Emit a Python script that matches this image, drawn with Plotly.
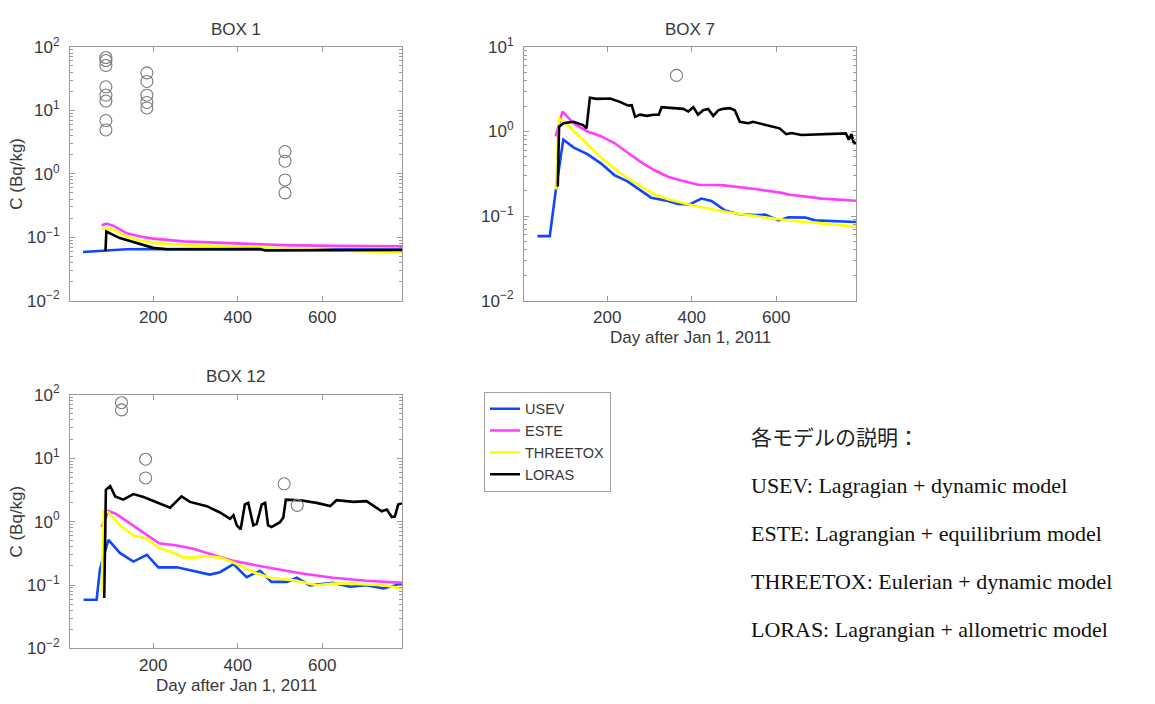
import plotly.graph_objects as go

# ---------------- DATA ----------------
# BOX 1
box1_usev_x = [34, 60, 90, 120, 137, 200, 300, 400, 500, 600, 700, 789]
box1_usev_y = [0.0586, 0.060, 0.062, 0.064, 0.0646, 0.065, 0.065, 0.065, 0.065, 0.065, 0.064, 0.064]
box1_este_x = [78, 90, 106, 137, 169, 200, 271, 390, 508, 626, 789]
box1_este_y = [0.155, 0.164, 0.151, 0.116, 0.103, 0.095, 0.086, 0.0805, 0.075, 0.073, 0.072]
box1_three_x = [78, 106, 137, 169, 200, 271, 390, 508, 626, 789]
box1_three_y = [0.138, 0.131, 0.103, 0.089, 0.0815, 0.075, 0.0718, 0.0667, 0.0625, 0.057]
box1_loras_x = [87, 89, 121, 169, 200, 232, 300, 400, 453, 465, 600, 789]
box1_loras_y = [0.060, 0.123, 0.097, 0.079, 0.068, 0.0646, 0.065, 0.065, 0.065, 0.062, 0.062, 0.063]
box1_obs_x = [88, 88, 88, 88, 88, 88, 88, 88, 185, 185, 185, 185, 185, 512, 512, 512, 512]
box1_obs_y = [68, 61, 51, 23.5, 17.4, 14, 6.9, 4.9, 39, 28.5, 17.3, 13.3, 10.9, 2.24, 1.58, 0.80, 0.50]

# BOX 7
box7_usev_x = [35, 64, 78, 96, 121, 153, 185, 217, 248, 280, 304, 344, 367, 395, 423, 447, 479, 510, 550, 574, 606, 629, 637, 669, 692, 730, 789]
box7_usev_y = [0.058, 0.058, 0.197, 0.80, 0.645, 0.54, 0.42, 0.305, 0.257, 0.197, 0.165, 0.151, 0.139, 0.137, 0.161, 0.151, 0.116, 0.106, 0.103, 0.104, 0.089, 0.097, 0.097, 0.096, 0.089, 0.088, 0.085]
box7_este_x = [78, 94, 121, 153, 185, 217, 248, 280, 312, 344, 375, 415, 471, 550, 614, 629, 709, 789]
box7_este_y = [0.877, 1.72, 1.24, 1.0, 0.88, 0.73, 0.565, 0.434, 0.348, 0.292, 0.263, 0.235, 0.232, 0.209, 0.188, 0.18, 0.161, 0.152]
box7_three_x = [78, 86, 98, 121, 153, 185, 217, 248, 280, 312, 344, 391, 439, 486, 550, 629, 709, 789]
box7_three_y = [0.206, 1.42, 1.3, 1.0, 0.70, 0.495, 0.364, 0.28, 0.225, 0.18, 0.158, 0.138, 0.123, 0.111, 0.10, 0.089, 0.082, 0.075]
box7_loras_x = [83, 86, 96, 120, 143, 151, 159, 175, 207, 230, 250, 258, 266, 278, 294, 310, 322, 329, 357, 380, 392, 404, 415, 427, 439, 451, 463, 474, 490, 502, 514, 534, 545, 577, 608, 624, 636, 660, 692, 740, 765, 772, 778, 783, 789]
box7_loras_y = [0.224, 1.14, 1.25, 1.30, 1.19, 1.09, 2.51, 2.43, 2.45, 2.24, 2.02, 2.05, 1.49, 1.58, 1.53, 1.58, 1.58, 1.94, 1.89, 1.85, 1.72, 1.94, 1.58, 1.78, 1.85, 1.53, 1.78, 1.85, 1.89, 1.78, 1.30, 1.25, 1.30, 1.19, 1.09, 0.93, 0.96, 0.91, 0.92, 0.95, 0.95, 0.80, 0.93, 0.75, 0.72]
box7_obs_x = [364]
box7_obs_y = [4.6]

# BOX 12
box12_usev_x = [35, 66, 74, 94, 121, 153, 185, 212, 256, 295, 334, 358, 390, 421, 453, 480, 516, 540, 571, 626, 666, 705, 745, 789]
box12_usev_y = [0.0586, 0.0586, 0.179, 0.513, 0.32, 0.234, 0.30, 0.19, 0.19, 0.168, 0.146, 0.159, 0.213, 0.133, 0.168, 0.112, 0.112, 0.130, 0.099, 0.108, 0.094, 0.099, 0.0885, 0.105]
box12_este_x = [78, 94, 113, 153, 185, 214, 256, 295, 341, 390, 437, 492, 548, 626, 705, 789]
box12_este_y = [0.82, 1.47, 1.31, 0.87, 0.61, 0.456, 0.42, 0.374, 0.30, 0.24, 0.208, 0.179, 0.153, 0.130, 0.117, 0.108]
box12_three_x = [78, 83, 94, 121, 153, 185, 212, 249, 273, 295, 327, 358, 390, 437, 476, 532, 587, 626, 666, 745, 789]
box12_three_y = [0.079, 1.47, 1.4, 0.87, 0.60, 0.543, 0.39, 0.32, 0.27, 0.27, 0.285, 0.27, 0.226, 0.159, 0.130, 0.119, 0.099, 0.105, 0.105, 0.099, 0.0885]
box12_loras_x = [84, 88, 98, 110, 129, 153, 177, 208, 240, 267, 287, 327, 358, 382, 390, 398, 407, 417, 425, 437, 445, 457, 465, 472, 480, 500, 508, 514, 548, 587, 619, 634, 674, 705, 729, 741, 753, 765, 772, 780, 789]
box12_loras_y = [0.0622, 3.16, 3.63, 2.49, 2.22, 2.71, 2.44, 2.04, 1.65, 2.49, 2.04, 1.75, 1.39, 1.10, 1.26, 0.87, 0.755, 1.86, 1.97, 0.87, 0.92, 1.86, 1.97, 0.87, 0.82, 0.977, 1.16, 2.22, 2.17, 1.97, 1.75, 2.17, 2.04, 2.10, 1.65, 1.45, 1.55, 1.18, 1.20, 1.85, 1.95]
box12_obs_x = [125, 125, 182, 182, 510, 541]
box12_obs_y = [74.6, 57.5, 9.6, 4.87, 3.94, 1.8]

model_names = ["USEV", "ESTE", "THREETOX", "LORAS"]
model_colors = ["#1046ff", "#ff3cff", "#ffff00", "#000000"]
x_tickvals = [200, 400, 600]
descr_title = "各モデルの説明："
descr_lines = [
    "USEV: Lagragian + dynamic model",
    "ESTE: Lagrangian + equilibrium model",
    "THREETOX: Eulerian + dynamic model",
    "LORAS: Lagrangian + allometric model",
]

# ---------------- FIGURE ----------------
W, H = 1155, 704
TXT = "#383838"
AXC = "#9a9a9a"
SANS = "Liberation Sans, Arial, sans-serif"

fig = go.Figure()

panels = [
    ("x", "y", [(box1_usev_x, box1_usev_y), (box1_este_x, box1_este_y), (box1_three_x, box1_three_y), (box1_loras_x, box1_loras_y)], (box1_obs_x, box1_obs_y), True),
    ("x2", "y2", [(box7_usev_x, box7_usev_y), (box7_este_x, box7_este_y), (box7_three_x, box7_three_y), (box7_loras_x, box7_loras_y)], (box7_obs_x, box7_obs_y), False),
    ("x3", "y3", [(box12_usev_x, box12_usev_y), (box12_este_x, box12_este_y), (box12_three_x, box12_three_y), (box12_loras_x, box12_loras_y)], (box12_obs_x, box12_obs_y), False),
]

for xa, ya, series, obs, show in panels:
    for (sx, sy), name, col in zip(series, model_names, model_colors):
        fig.add_trace(go.Scatter(x=sx, y=sy, mode="lines", name=name, legendgroup=name,
                                 showlegend=show, line=dict(color=col, width=2.6),
                                 xaxis=xa, yaxis=ya))
    fig.add_trace(go.Scatter(x=obs[0], y=obs[1], mode="markers", showlegend=False,
                             marker=dict(symbol="circle-open", size=12, color="#7a7a7a",
                                         line=dict(width=1.1, color="#7a7a7a")),
                             xaxis=xa, yaxis=ya))

def px_x(p):
    return p / W

def px_y(p):
    return 1 - p / H

def xaxis_cfg(l, r, anchor):
    return dict(domain=[px_x(l), px_x(r)], anchor=anchor, range=[3, 789],
                tickmode="array", tickvals=x_tickvals, ticks="inside", ticklen=5,
                tickcolor=AXC, showline=True, linecolor=AXC, linewidth=1, mirror="ticks",
                showgrid=False, zeroline=False,
                tickfont=dict(family=SANS, size=17, color=TXT), ticklabelstandoff=1)

def yaxis_cfg(t, b, anchor, lo, hi):
    vals = [10.0 ** e for e in range(lo, hi + 1)]
    texts = ["10<sup>%s</sup>" % (str(e) if e >= 0 else "\u2212" + str(-e)) for e in range(lo, hi + 1)]
    minor_vals = [m * 10.0 ** e for e in range(lo, hi) for m in range(2, 10)]
    return dict(domain=[px_y(b), px_y(t)], anchor=anchor, type="log", range=[lo, hi],
                tickmode="array", tickvals=vals, ticktext=texts, ticks="inside", ticklen=5,
                tickcolor=AXC, showline=True, linecolor=AXC, linewidth=1, mirror="ticks",
                showgrid=False, zeroline=False,
                minor=dict(tickmode="array", tickvals=minor_vals, ticks="inside", ticklen=3,
                           tickcolor=AXC, showgrid=False),
                tickfont=dict(family=SANS, size=17, color=TXT), ticklabelstandoff=6)

fig.update_layout(
    width=W, height=H, autosize=False,
    margin=dict(l=0, r=0, t=0, b=0),
    paper_bgcolor="white", plot_bgcolor="white",
    xaxis=xaxis_cfg(70, 402, "y"), yaxis=yaxis_cfg(36, 298, "x", -2, 2),
    xaxis2=xaxis_cfg(524, 856, "y2"), yaxis2=yaxis_cfg(36, 298, "x2", -2, 1),
    xaxis3=xaxis_cfg(70, 402, "y3"), yaxis3=yaxis_cfg(395, 657, "x3", -2, 2),
    legend=dict(x=px_x(484), y=px_y(392), xanchor="left", yanchor="top",
                bgcolor="white", bordercolor="#a0a0a0", borderwidth=1,
                font=dict(family=SANS, size=14.5, color=TXT), tracegroupgap=0,
                itemwidth=30, entrywidth=132, entrywidthmode="pixels"),
    showlegend=True,
)

ann = []
def add_text(x, y, text, size=17, family=SANS, color=TXT, angle=0, xanchor="center"):
    ann.append(dict(x=px_x(x), y=px_y(y), xref="paper", yref="paper", text=text,
                    showarrow=False, font=dict(family=family, size=size, color=color),
                    textangle=angle, xanchor=xanchor, yanchor="middle"))

add_text(236, 18, "BOX 1")
add_text(690, 18, "BOX 7")
add_text(236, 376, "BOX 12")
add_text(17, 167, "C (Bq/kg)", angle=-90)
add_text(17, 526, "C (Bq/kg)", angle=-90)
add_text(690, 336, "Day after Jan 1, 2011", size=17)
add_text(236, 695, "Day after Jan 1, 2011", size=17)

SERIF = "Liberation Serif, Times New Roman, Noto Sans CJK JP, serif"
add_text(749, 438, descr_title, size=21, family="Noto Sans CJK JP", color="#222", xanchor="left")
for i, line in enumerate(descr_lines):
    add_text(749, 489 + i * 49.5, line, size=22, family=SERIF, color="#111", xanchor="left")

fig.update_layout(annotations=ann)

fig.write_html("out.html", config={"displayModeBar": False},
               post_script="document.body.style.margin='0px';document.body.style.padding='0px';")
